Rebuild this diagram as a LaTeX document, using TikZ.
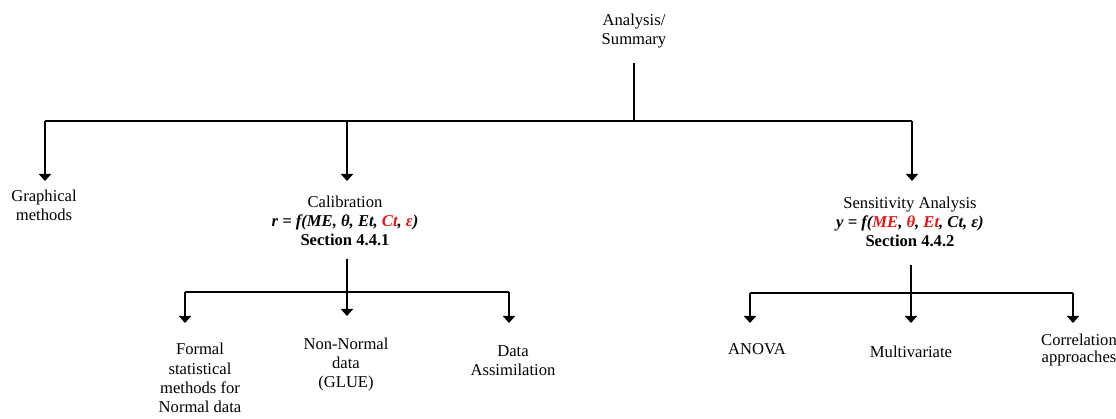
\documentclass[tikz,border=0pt]{standalone}
\usepackage{fontspec}
\setmainfont{Liberation Serif}
\usetikzlibrary{arrows.meta}
\begin{document}
\begin{tikzpicture}[x=1pt,y=-1pt,
  lbl/.style={anchor=north,inner sep=0pt,align=center,font=\fontsize{16.6}{19}\selectfont},
  ln/.style={line width=1.7pt},
  arr/.style={line width=1.7pt,-{Triangle[width=12pt,length=7pt]}}]
\useasboundingbox (0,0) rectangle (1116,419);
\definecolor{myred}{RGB}{235,20,20}
% nodes
\node[lbl] (top) at (634,14) {Analysis/\\Summary};
\node[lbl] (graph) at (44,190) {Graphical\\methods};
\node[lbl] (cal) at (345,196) {Calibration\\\textbf{\textit{r = f(ME, θ, Et, \textcolor{myred}{Ct}, \textcolor{myred}{ε})}}\\\textbf{Section 4.4.1}};
\node[lbl] (sens) at (910,197) {Sensitivity Analysis\\\textbf{\textit{y = f(\textcolor{myred}{ME}, \textcolor{myred}{θ}, \textcolor{myred}{Et}, Ct, ε)}}\\\textbf{Section 4.4.2}};
\node[lbl,font=\fontsize{16.6}{19.3}\selectfont] (formal) at (200,343) {Formal\\statistical\\methods for\\Normal data};
\node[lbl] (nonnorm) at (346,338) {Non-Normal\\data\\(GLUE)};
\node[lbl] (assim) at (513,345) {Data\\Assimilation};
\node[lbl] (anova) at (757,343) {ANOVA};
\node[lbl] (multi) at (911,346) {Multivariate};
\node[lbl,font=\fontsize{16.6}{17}\selectfont] (corr) at (1079,334) {Correlation\\approaches};
% coordinates
\coordinate (t0) at (634,63);
\coordinate (j0) at (634,121);
\coordinate (b0l) at (45,121);
\coordinate (b0r) at (912,121);
\coordinate (ag) at (45,181);
\coordinate (b0c) at (347,121);
\coordinate (ac) at (347,181);
\coordinate (as) at (912,181);
\coordinate (c0) at (347,259);
\coordinate (c1) at (347,292);
\coordinate (c1l) at (185,292);
\coordinate (c1r) at (509,292);
\coordinate (af) at (185,323);
\coordinate (an) at (347,316);
\coordinate (ad) at (509,323);
\coordinate (s0) at (911,265);
\coordinate (s1) at (911,293);
\coordinate (s1l) at (750,293);
\coordinate (s1r) at (1073,293);
\coordinate (aa) at (750,323);
\coordinate (am) at (911,323);
\coordinate (ar) at (1073,323);
% connectors
\draw[ln] (t0) -- (j0);
\draw[ln] (b0l) -- (b0r);
\draw[arr] (b0l) -- (ag);
\draw[arr] (b0c) -- (ac);
\draw[arr] (b0r) -- (as);
\draw[line width=2.4pt] (c0) -- (c1);
\draw[ln] (c1l) -- (c1r);
\draw[arr] (c1l) -- (af);
\draw[arr] (c1) -- (an);
\draw[arr] (c1r) -- (ad);
\draw[ln] (s0) -- (s1);
\draw[ln] (s1l) -- (s1r);
\draw[arr] (s1l) -- (aa);
\draw[arr] (s1) -- (am);
\draw[arr] (s1r) -- (ar);
\end{tikzpicture}
\end{document}
